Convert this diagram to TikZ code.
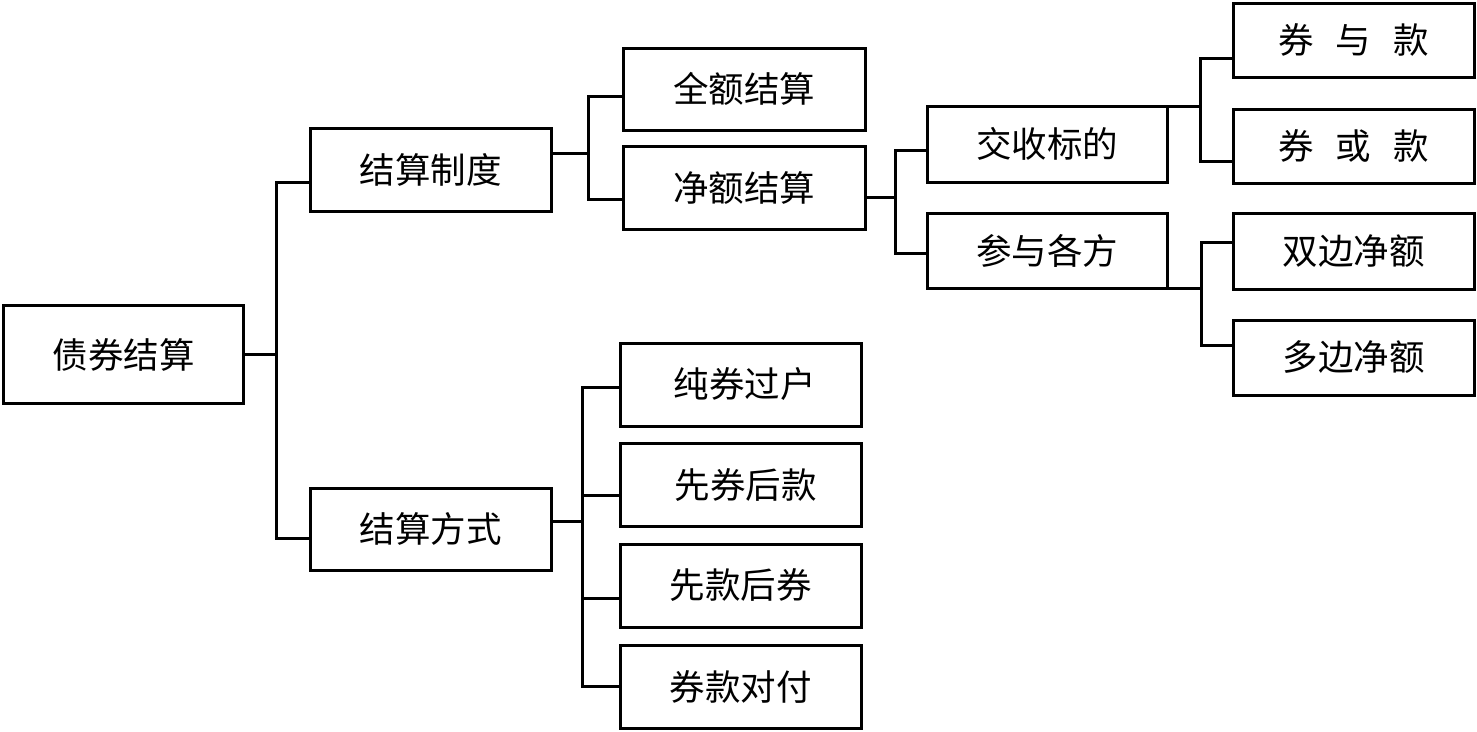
\documentclass[tikz,border=0pt]{standalone}
\usepackage{fontspec}
\newfontfamily\cjk{Noto Sans CJK SC}
\begin{document}
\begin{tikzpicture}[x=1pt,y=-1pt,
  box/.style={draw, line width=3pt, minimum width=241pt, minimum height=83pt, inner sep=0pt,
    font=\cjk\fontsize{35.5pt}{40pt}\selectfont},
  conn/.style={line width=3pt, line cap=rect}]
\fill[white] (0,0) rectangle (1477,731);
\useasboundingbox (0,0) rectangle (1477,731);
% nodes
\node[box, minimum width=240pt, minimum height=98pt] (root) at (123.5,354.5) {债券结算};
\node[box] (A) at (430.5,169.5) {结算制度};
\node[box, minimum height=82pt] (B) at (430.5,529) {结算方式};
\node[box, minimum width=242pt, minimum height=82pt] (A1) at (744,89) {全额结算};
\node[box, minimum width=242pt] (A2) at (744,187.5) {净额结算};
\node[box] (B1) at (740.5,384.5) {\hspace{8pt}纯券过户};
\node[box] (B2) at (740.5,485) {\hspace{10pt}先券后款};
\node[box] (B3) at (740.5,585.5) {先款后券};
\node[box] (B4) at (740.5,686.5) {券款对付};
\node[box, minimum width=240pt, minimum height=76pt] (C1) at (1047,144) {交收标的};
\node[box, minimum width=240pt, minimum height=75pt] (C2) at (1047,250.5) {参与各方};
\node[box, minimum height=74pt] (D1) at (1353.5,40) {\spaceskip=0.62em 券 与 款};
\node[box, minimum height=74pt] (D2) at (1353.5,146) {\spaceskip=0.62em 券 或 款};
\node[box, minimum height=76pt] (D3) at (1353.5,251) {双边净额};
\node[box, minimum height=75pt] (D4) at (1353.5,357.5) {多边净额};
% junction points
\coordinate (j1) at (276,354.5);
\coordinate (j2) at (588,153);
\coordinate (j3) at (582,521);
\coordinate (j4) at (895,197);
\coordinate (j5) at (1200,106);
\coordinate (j6) at (1201,289);
% connectors
\draw[conn] (root.east) -- (j1);
\draw[conn] ([yshift=-12.5pt]A.west) -| (j1) |- ([yshift=-9pt]B.west);
\draw[conn] ([yshift=16.5pt]A.east) -- (j2);
\draw[conn] ([yshift=-7pt]A1.west) -| (j2) |- ([yshift=-11.5pt]A2.west);
\draw[conn] ([yshift=8pt]B.east) -- (j3);
\draw[conn] ([yshift=-2.5pt]B1.west) -| (j3) |- (B4.west);
\draw[conn] ([yshift=-10pt]B2.west) -- ([yshift=-10pt]B2.west -| j3);
\draw[conn] ([yshift=-12.5pt]B3.west) -- ([yshift=-12.5pt]B3.west -| j3);
\draw[conn] ([yshift=-9.5pt]A2.east) -- (j4);
\draw[conn] ([yshift=-6pt]C1.west) -| (j4) |- ([yshift=-2.5pt]C2.west);
\draw[conn] ([yshift=-1.5pt]C1.north east) -- ([yshift=-1.5pt]C1.north east -| j5);
\draw[conn] ([yshift=-18pt]D1.west) -| ([yshift=-1.5pt]C1.north east -| j5) |- ([yshift=-15pt]D2.west);
\draw[conn] ([yshift=1.5pt]C2.south east) -- ([yshift=1.5pt]C2.south east -| j6);
\draw[conn] ([yshift=9pt]D3.west) -| ([yshift=1.5pt]C2.south east -| j6) |- ([yshift=12.5pt]D4.west);
\end{tikzpicture}
\end{document}
